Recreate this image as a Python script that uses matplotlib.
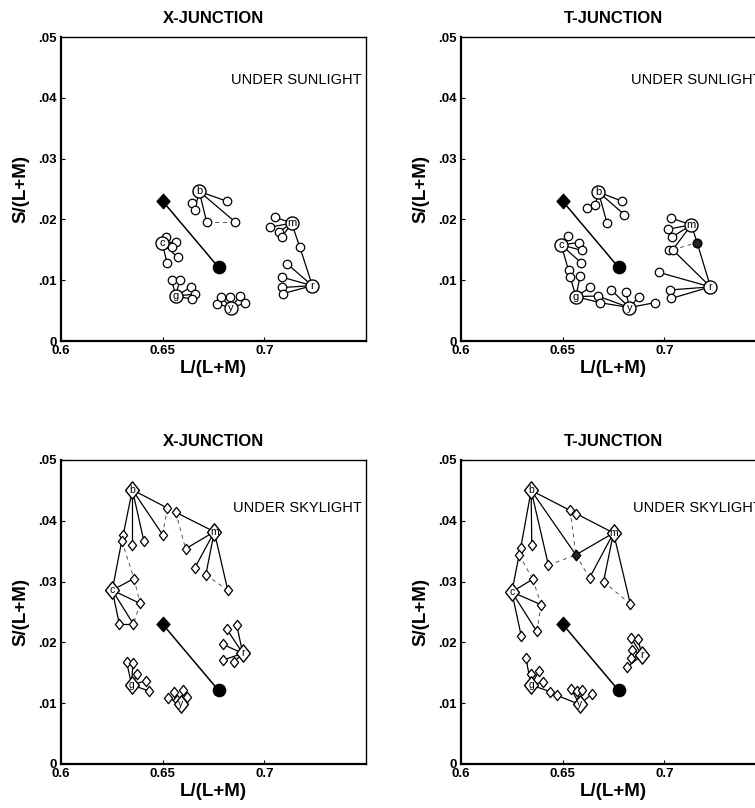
import matplotlib
matplotlib.use("Agg")
from matplotlib import pyplot as plt
from matplotlib.path import Path

plt.rcParams['font.family'] = ['Liberation Sans', 'DejaVu Sans']

# reference points (same in every panel)
ref_diamond = (0.650, 0.0230)
ref_circle = (0.6775, 0.0121)

# ---- X-junction, sunlight ----
xs_x = [0.6680, 0.6815, 0.6642, 0.6658, 0.6716, 0.6856,
        0.6498, 0.6518, 0.6564, 0.6548, 0.6573, 0.6521,
        0.6564, 0.6545, 0.6584, 0.6637, 0.6658, 0.6642,
        0.6835, 0.6766, 0.6786, 0.6832, 0.6881, 0.6906,
        0.7134, 0.7050, 0.7027, 0.7071, 0.7087, 0.7175,
        0.7236, 0.7112, 0.7087, 0.7087, 0.7092]
xs_y = [0.0246, 0.0230, 0.0227, 0.0216, 0.0196, 0.0196,
        0.0161, 0.0171, 0.0163, 0.0154, 0.0138, 0.0129,
        0.0074, 0.0100, 0.0100, 0.0088, 0.0077, 0.0069,
        0.0055, 0.0061, 0.0073, 0.0072, 0.0074, 0.0062,
        0.0194, 0.0204, 0.0187, 0.0179, 0.0171, 0.0154,
        0.0091, 0.0127, 0.0105, 0.0088, 0.0078]
xs_lab = {0: 'b', 6: 'c', 12: 'g', 18: 'y', 24: 'm', 30: 'r'}
xs_solid = [(0, 1), (0, 3), (0, 4), (0, 5), (2, 3),
            (6, 7), (6, 8), (6, 9), (6, 10), (6, 11),
            (12, 13), (12, 14), (12, 15), (12, 16), (12, 17),
            (18, 19), (18, 20), (18, 21), (18, 22), (18, 23),
            (24, 25), (24, 26), (24, 27), (24, 28), (24, 29),
            (30, 29), (30, 31), (30, 32), (30, 33), (30, 34)]
xs_dash = [(4, 5)]
xs_dark = []

# ---- T-junction, sunlight ----
ts_x = [0.6676, 0.6792, 0.6660, 0.6622, 0.6803, 0.6718,
        0.6493, 0.6525, 0.6581, 0.6595, 0.6590, 0.6529, 0.6537, 0.6586,
        0.6565, 0.6635, 0.6673, 0.6685,
        0.6828, 0.6739, 0.6811, 0.6873, 0.6952,
        0.7133, 0.7034, 0.7018, 0.7038, 0.7161, 0.7021, 0.7041,
        0.7227, 0.6972, 0.7030, 0.7034]
ts_y = [0.0245, 0.0230, 0.0223, 0.0219, 0.0208, 0.0194,
        0.0158, 0.0172, 0.0162, 0.0149, 0.0129, 0.0116, 0.0106, 0.0107,
        0.0073, 0.0088, 0.0074, 0.0063,
        0.0055, 0.0084, 0.0081, 0.0072, 0.0063,
        0.0191, 0.0202, 0.0184, 0.0171, 0.0162, 0.0149, 0.0150,
        0.0089, 0.0113, 0.0084, 0.0070]
ts_lab = {0: 'b', 6: 'c', 14: 'g', 18: 'y', 23: 'm', 30: 'r'}
ts_solid = [(0, 1), (0, 2), (0, 4), (0, 5), (2, 3),
            (6, 7), (6, 8), (6, 9), (6, 10), (6, 11),
            (14, 12), (14, 13), (14, 15), (14, 16), (14, 17),
            (18, 16), (18, 17), (18, 19), (18, 20), (18, 21), (18, 22),
            (23, 24), (23, 25), (23, 26), (23, 27), (23, 29),
            (30, 27), (30, 29), (30, 31), (30, 32), (30, 33)]
ts_dash = [(29, 27)]
ts_dark = [27]

# ---- X-junction, skylight ----
xk_x = [0.6351, 0.6306, 0.6299, 0.6351, 0.6408, 0.6500, 0.6523,
        0.6754, 0.6564, 0.6613, 0.6659, 0.6712, 0.6820,
        0.6252, 0.6359, 0.6389, 0.6287, 0.6356,
        0.6894, 0.6815, 0.6864, 0.6795, 0.6798, 0.6851,
        0.6348, 0.6323, 0.6353, 0.6375, 0.6418, 0.6434,
        0.6589, 0.6528, 0.6557, 0.6602, 0.6621, 0.6572]
xk_y = [0.0451, 0.0377, 0.0367, 0.0361, 0.0366, 0.0377, 0.0421,
        0.0382, 0.0414, 0.0354, 0.0323, 0.0311, 0.0286,
        0.0286, 0.0305, 0.0264, 0.0230, 0.0230,
        0.0182, 0.0222, 0.0229, 0.0197, 0.0171, 0.0168,
        0.0130, 0.0167, 0.0166, 0.0148, 0.0137, 0.0120,
        0.0098, 0.0109, 0.0119, 0.0122, 0.0110, 0.0106]
xk_lab = {0: 'b', 7: 'm', 13: 'c', 18: 'r', 24: 'g', 30: 'y'}
xk_solid = [(0, 1), (0, 3), (0, 4), (0, 5), (0, 6),
            (7, 8), (7, 9), (7, 10), (7, 11), (7, 12),
            (13, 2), (13, 14), (13, 15), (13, 16), (13, 17), (16, 17),
            (18, 19), (18, 20), (18, 21), (18, 22), (18, 23),
            (24, 25), (24, 26), (24, 27), (24, 28), (24, 29),
            (30, 31), (30, 32), (30, 33), (30, 34), (30, 35)]
xk_dash = [(6, 5), (8, 9), (2, 14), (14, 15), (11, 12), (15, 17)]
xk_dark = []

# ---- T-junction, skylight ----
tk_x = [0.6345, 0.6294, 0.6286, 0.6348, 0.6430, 0.6537, 0.6565, 0.6565,
        0.6750, 0.6632, 0.6701, 0.6833,
        0.6250, 0.6353, 0.6394, 0.6296, 0.6373,
        0.6345, 0.6319, 0.6345, 0.6384, 0.6405, 0.6438, 0.6471,
        0.6583, 0.6542, 0.6570, 0.6595, 0.6644,
        0.6890, 0.6837, 0.6870, 0.6841, 0.6837, 0.6816]
tk_y = [0.0450, 0.0356, 0.0344, 0.0360, 0.0327, 0.0417, 0.0412, 0.0344,
        0.0380, 0.0306, 0.0300, 0.0263,
        0.0283, 0.0304, 0.0262, 0.0211, 0.0218,
        0.0130, 0.0174, 0.0148, 0.0153, 0.0135, 0.0119, 0.0113,
        0.0098, 0.0123, 0.0120, 0.0122, 0.0115,
        0.0179, 0.0207, 0.0206, 0.0188, 0.0174, 0.0159]
tk_lab = {0: 'b', 8: 'm', 12: 'c', 17: 'g', 24: 'y', 29: 'r'}
tk_solid = [(0, 1), (0, 3), (0, 4), (0, 5), (0, 7),
            (8, 6), (8, 7), (8, 9), (8, 10), (8, 11),
            (12, 2), (12, 13), (12, 14), (12, 15), (12, 16),
            (17, 18), (17, 19), (17, 20), (17, 21), (17, 22),
            (24, 23), (24, 25), (24, 26), (24, 27), (24, 28),
            (29, 30), (29, 31), (29, 32), (29, 33), (29, 34)]
tk_dash = [(5, 7), (4, 7), (2, 13), (7, 9), (10, 11), (13, 14), (14, 16)]
tk_dark = [7]

x_ticks = [0.6, 0.65, 0.7]
x_ticklabels = ['0.6', '0.65', '0.7']
y_ticks = [0, 0.01, 0.02, 0.03, 0.04, 0.05]
y_ticklabels = ['0', '.01', '.02', '.03', '.04', '.05']

# slightly tall diamonds, as in the original figure
tall_d = Path([(0, 1), (0.8, 0), (0, -1), (-0.8, 0), (0, 1)],
              [Path.MOVETO, Path.LINETO, Path.LINETO, Path.LINETO, Path.CLOSEPOLY])
solid_d = Path([(0, 1), (0.9, 0), (0, -1), (-0.9, 0), (0, 1)],
               [Path.MOVETO, Path.LINETO, Path.LINETO, Path.LINETO, Path.CLOSEPOLY])

W, H = 755, 808
fig = plt.figure(figsize=(W / 100, H / 100), dpi=100)


def panel(left, top, title, note, xs, ys, labs, solid, dash, dark, mk):
    ax = fig.add_axes([left / W, 1 - (top + 304) / H, 305 / W, 304 / H])
    for i, j in solid:
        ax.plot([xs[i], xs[j]], [ys[i], ys[j]], '-', color='black', lw=0.9, zorder=2)
    for i, j in dash:
        ax.plot([xs[i], xs[j]], [ys[i], ys[j]], '--', color='#555555', lw=0.7,
                dashes=(4, 4), zorder=2)
    ax.plot([ref_diamond[0], ref_circle[0]], [ref_diamond[1], ref_circle[1]],
            '-', color='black', lw=1.1, zorder=2)
    sx = [xs[k] for k in range(len(xs)) if k not in labs]
    sy = [ys[k] for k in range(len(ys)) if k not in labs]
    if mk == 'o':
        small, big, m = 6.1, 9.4, 'o'
    else:
        small, big, m = 7.4, 12.5, tall_d
    ax.plot(sx, sy, marker=m, ms=small, mfc='white', mec='black', mew=0.9, ls='none', zorder=3)
    for k in dark:
        ax.plot(xs[k], ys[k], marker=m, ms=small, mfc='#222222', mec='black', mew=0.9, zorder=3)
    for k, lab in labs.items():
        ax.plot(xs[k], ys[k], marker=m, ms=big, mfc='white', mec='black', mew=1.0, zorder=4)
        ax.text(xs[k], ys[k], lab, ha='center', va='center',
                fontsize=8 if mk == 'o' else 7.5, zorder=5)
    ax.plot(*ref_diamond, marker=solid_d, ms=10.3, color='black', zorder=4)
    ax.plot(*ref_circle, 'o', ms=8.8, color='black', zorder=4)

    ax.set_xlim(0.6, 0.75)
    ax.set_ylim(0, 0.05)
    ax.set_xticks(x_ticks)
    ax.set_xticklabels(x_ticklabels, fontsize=9.5, fontweight='bold')
    ax.set_yticks(y_ticks)
    ax.set_yticklabels(y_ticklabels, fontsize=9.5, fontweight='bold')
    ax.tick_params(direction='in', length=3, width=0.8, pad=3)
    for s in ax.spines.values():
        s.set_linewidth(1.0)
    ax.spines['left'].set_linewidth(1.6)
    ax.spines['bottom'].set_linewidth(1.6)
    ax.set_xlabel('L/(L+M)', fontsize=13.5, fontweight='bold', labelpad=2)
    ax.set_ylabel('S/(L+M)', fontsize=13.5, fontweight='bold', labelpad=6)
    ax.set_title(title, fontsize=12, fontweight='bold', pad=10)
    ax.text(0.985, 0.86 if mk == 'o' else 0.843, note, transform=ax.transAxes,
            ha='right', va='center', fontsize=10.5)
    return ax


panel(61, 37, 'X-JUNCTION', 'UNDER SUNLIGHT', xs_x, xs_y, xs_lab, xs_solid, xs_dash, xs_dark, 'o')
panel(461, 37, 'T-JUNCTION', 'UNDER SUNLIGHT', ts_x, ts_y, ts_lab, ts_solid, ts_dash, ts_dark, 'o')
panel(61, 460, 'X-JUNCTION', 'UNDER SKYLIGHT', xk_x, xk_y, xk_lab, xk_solid, xk_dash, xk_dark, 'D')
panel(461, 460, 'T-JUNCTION', 'UNDER SKYLIGHT', tk_x, tk_y, tk_lab, tk_solid, tk_dash, tk_dark, 'D')

fig.savefig('out.png', dpi=100)
